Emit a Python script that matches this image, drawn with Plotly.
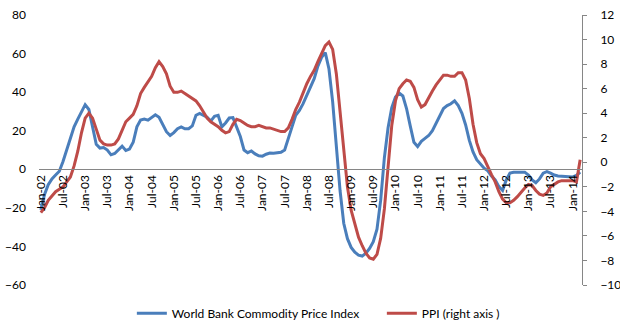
import plotly.graph_objects as go

# Monthly categories, Jan-02 .. Mar-14
month_names = ["Jan", "Feb", "Mar", "Apr", "May", "Jun",
               "Jul", "Aug", "Sep", "Oct", "Nov", "Dec"]
months = [f"{month_names[i % 12]}-{2 + i // 12:02d}" for i in range(147)]
tick_labels = months[::6]

# World Bank Commodity Price Index, y/y % change (left axis)
commodity_index = [
    -21, -13, -8, -5, -3, -1, 4, 10, 16, 22, 26, 30,
    33.5, 31, 21, 13, 11, 11.3, 10, 7.5, 8.2, 10, 12, 9.8,
    10.5, 14, 22, 25.5, 26, 25.5, 27, 28.3, 27, 23, 19.5, 17.5,
    19, 21, 22, 21, 21, 22.5, 28, 29, 28, 27, 25, 27.5,
    28, 22, 24, 26.6, 26.8, 22, 17, 10, 8.6, 9.5, 8, 7,
    6.8, 7.8, 8.4, 8.3, 8.5, 8.8, 10, 15.5, 22, 28, 30.5, 34,
    38.5, 43, 47, 53.5, 58, 60.5, 52, 35, 13, -11, -28, -36,
    -40.5, -43, -44.5, -45, -43.5, -41, -37.5, -31, -16, 6, 21.5, 32,
    37.5, 39.5, 38, 31.5, 22.5, 14, 11.8, 14.5, 16, 17.5, 20, 24,
    28, 31.5, 33, 34, 35.5, 33, 29, 23, 15, 9, 5, 2.5,
    0.6, -0.8, -3.5, -5.5, -9, -11, -5.5, -2, -1.5, -1.5, -1.5, -1.5,
    -3, -5.5, -7, -5, -2, -1.2, -2, -3, -3.5, -3.7, -3.7, -3.8,
    -4, -3.2, -1.5,
]

# PPI, y/y % change (right axis)
ppi = [
    -4.1, -3.7, -3.1, -2.7, -2.4, -2.2, -2, -1.6, -1.2, -0.3, 0.9, 2.4,
    3.6, 4, 3.6, 2.7, 1.8, 1.5, 1.4, 1.4, 1.5, 1.9, 2.6, 3.3,
    3.6, 3.9, 4.6, 5.6, 6.1, 6.5, 7, 7.7, 8.2, 7.8, 7.2, 6.2,
    5.7, 5.7, 5.8, 5.6, 5.4, 5.2, 5, 4.6, 4.1, 3.6, 3.3, 3.1,
    2.9, 2.6, 2.4, 2.5, 3.1, 3.5, 3.4, 3.2, 3, 2.9, 2.9, 3,
    2.9, 2.8, 2.8, 2.7, 2.6, 2.5, 2.5, 2.8, 3.5, 4.3, 4.9, 5.7,
    6.4, 7, 7.5, 8.2, 8.8, 9.5, 9.8, 9.2, 7.2, 4.1, 0.8, -2,
    -3.9, -5.1, -6.1, -6.8, -7.4, -7.8, -7.9, -7.5, -6.2, -3.8, -0.2, 3,
    5, 6, 6.4, 6.7, 6.6, 6.1, 5.1, 4.5, 4.7, 5.3, 5.8, 6.3,
    6.7, 7.1, 7.1, 7, 7, 7.3, 7.3, 6.7, 5.2, 3.1, 1.6, 0.7,
    0.3, -0.4, -1, -1.6, -2.4, -3, -3.3, -3.3, -3.1, -2.8, -2.4, -2.1,
    -1.8, -1.9, -2.3, -2.6, -2.7, -2.5, -2, -1.8, -1.6, -1.5, -1.5, -1.5,
    -1.5, -1.6, 0.2,
]

BLUE = "#4A7EBB"
RED = "#BE4B48"
AXIS_GREY = "#868686"
FONT = dict(family="Lato, Calibri, sans-serif", size=12, color="#000000")

left_range = [-60, 80]

fig = go.Figure()
fig.add_trace(go.Scatter(
    x=months, y=commodity_index, mode="lines",
    name="World Bank Commodity Price Index",
    line=dict(color=BLUE, width=3),
    xaxis="x", yaxis="y",
))
fig.add_trace(go.Scatter(
    x=months, y=ppi, mode="lines",
    name="PPI (right axis )",
    line=dict(color=RED, width=3),
    xaxis="x", yaxis="y2",
))

fig.update_layout(
    width=620, height=333,
    margin=dict(l=39, r=38, t=15, b=48, autoexpand=False),
    paper_bgcolor="white", plot_bgcolor="white",
    font=FONT,
    showlegend=True,
    legend=dict(orientation="h", x=0.171, xanchor="left",
                y=-0.105, yanchor="middle", font=FONT,
                entrywidth=205, entrywidthmode="pixels",
                bgcolor="rgba(0,0,0,0)"),
    xaxis=dict(
        type="category", range=[-0.5, len(months) - 0.5],
        anchor="free",
        position=(0 - left_range[0]) / (left_range[1] - left_range[0]),
        showline=True, linecolor=AXIS_GREY, linewidth=1,
        showgrid=False, zeroline=False,
        tickmode="array", tickvals=tick_labels, ticktext=tick_labels,
        tickangle=-90, ticks="", tickfont=FONT,
    ),
    yaxis=dict(
        range=left_range, dtick=20, tick0=0,
        showgrid=False, zeroline=False, showline=False,
        ticks="", ticklabelstandoff=12, tickfont=FONT,
    ),
    yaxis2=dict(
        range=[-10, 12], dtick=2, tick0=0,
        overlaying="y", side="right", anchor="x",
        showgrid=False, zeroline=False,
        showline=True, linecolor=AXIS_GREY, linewidth=1,
        ticks="outside", ticklen=4, tickcolor=AXIS_GREY,
        ticklabelstandoff=11, tickfont=FONT,
    ),
)

fig.write_html("out.html")
